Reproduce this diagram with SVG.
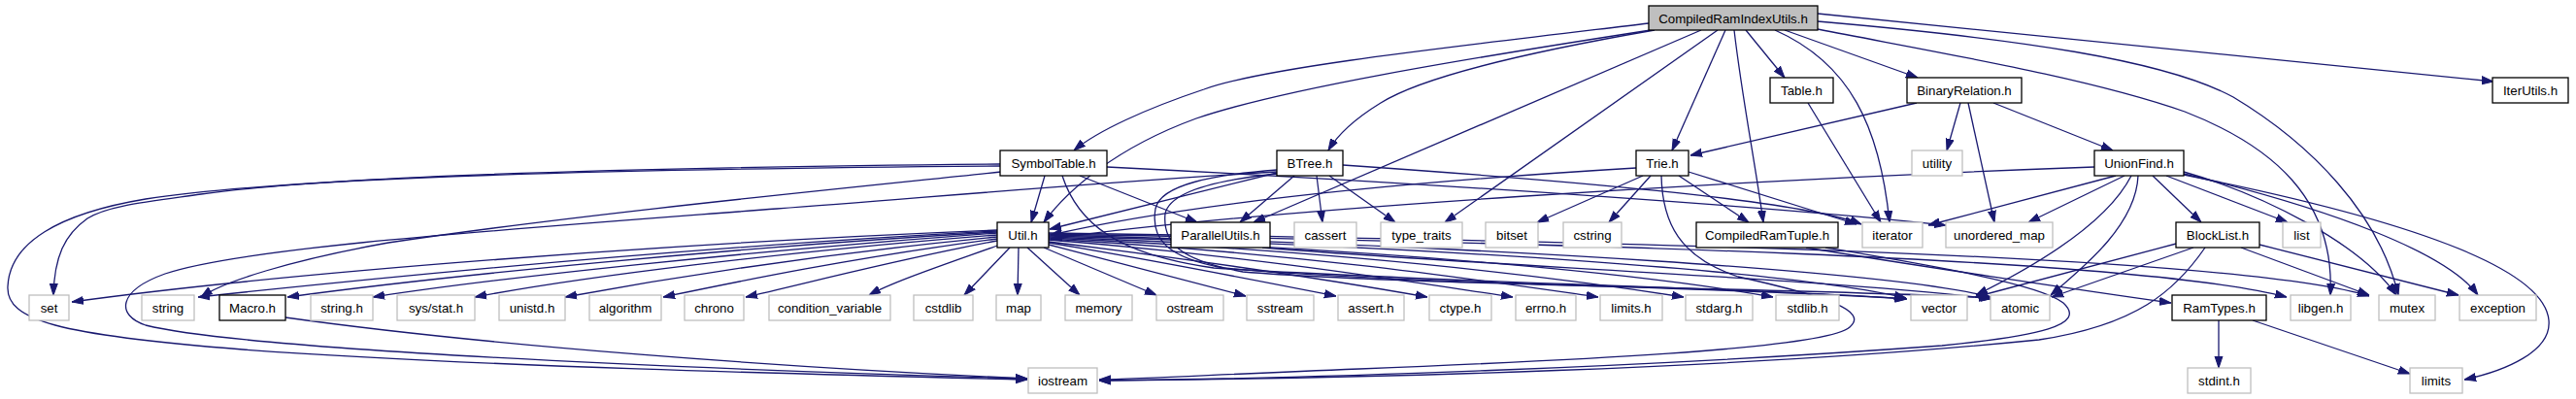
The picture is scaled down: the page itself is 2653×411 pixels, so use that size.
<svg xmlns="http://www.w3.org/2000/svg" width="2653" height="411" viewBox="0 0 2653 411">
<style>
.n rect{fill:#fff;stroke:#000;stroke-width:1.3}
.x rect{fill:#fff;stroke:#bfbfbf;stroke-width:1.3}
.r rect{fill:#bfbfbf;stroke:#000;stroke-width:1.3}
text{font-family:"Liberation Sans",Arial,sans-serif;font-size:13.3px;text-anchor:middle;fill:#000}
#edges path{fill:none;stroke:#191970;stroke-width:1.3;marker-end:url(#a)}
</style>
<defs>
<marker id="a" markerUnits="userSpaceOnUse" markerWidth="12" markerHeight="10" viewBox="0 0 12 10" refX="12" refY="5" orient="auto"><path d="M0,1 L12,5 L0,9 z" fill="#191970" stroke="#191970" stroke-width="1"/></marker>
</defs>
<rect width="2653" height="411" fill="#fff"/>
<g id="edges">
<path d="M1698,24 C1480,50 1300,70 1240,92 C1180,112 1130,135 1106,155"/>
<path d="M1700,31 C1500,62 1320,92 1232,122 C1150,152 1100,195 1075,229"/>
<path d="M1704,31 C1560,56 1460,82 1422,106 C1396,122 1378,138 1368,155"/>
<path d="M1752,31 L1291,229"/>
<path d="M1769,31 L1488,229"/>
<path d="M1777,31 L1722,155"/>
<path d="M1786,31 C1794,100 1808,170 1816,229"/>
<path d="M1798,31 L1838,80"/>
<path d="M1828,31 C1905,65 1936,130 1946,229"/>
<path d="M1838,31 L1975,80"/>
<path d="M1872,30 C2000,55 2150,80 2250,115 C2340,150 2405,205 2400,304"/>
<path d="M1872,22 C2080,40 2230,62 2300,100 C2380,148 2450,220 2470,304"/>
<path d="M1872,14 L2568,84"/>
<path d="M1862,106 L1937,229"/>
<path d="M1974,106 L1741,160"/>
<path d="M2019,106 L2005,155"/>
<path d="M2027,106 L2054,229"/>
<path d="M2053,106 L2176,155"/>
<path d="M1030,169 C700,172 350,180 207,200 C150,208 110,212 90,225 C66,242 56,265 55,304"/>
<path d="M1030,171 C650,174 300,182 150,205 C60,220 10,250 8,295 C6,330 60,345 250,360 C500,378 850,386 1058,391"/>
<path d="M1031,177 C880,193 600,220 400,250 C300,268 230,290 207,306"/>
<path d="M1076,181 L1062,229"/>
<path d="M1112,181 L1233,229"/>
<path d="M1140,172 C1500,190 1850,215 2004,232"/>
<path d="M1094,181 C1110,230 1150,262 1250,276 C1500,292 1800,296 1964,308"/>
<path d="M1315,177 C1100,190 950,204 800,215 C500,238 250,255 170,282 C120,300 120,325 150,335 C250,360 700,380 1058,390"/>
<path d="M1315,178 L1081,236"/>
<path d="M1333,181 L1277,229"/>
<path d="M1356,181 L1362,229"/>
<path d="M1369,181 L1437,229"/>
<path d="M1383,170 C1600,185 1850,205 1917,231"/>
<path d="M1315,175 C1250,180 1195,190 1190,215 C1185,245 1200,265 1260,276 C1420,292 1800,296 1963,308"/>
<path d="M1316,179 C1255,185 1205,197 1200,220 C1197,250 1215,268 1280,280 C1450,294 1900,298 2052,307"/>
<path d="M1685,173 C1400,190 1200,215 1082,242"/>
<path d="M1692,181 L1583,229"/>
<path d="M1700,181 L1657,229"/>
<path d="M1729,181 L1801,229"/>
<path d="M1739,177 L1912,231"/>
<path d="M1711,181 C1712,230 1730,265 1790,285 C1880,305 1925,320 1905,337 C1880,360 1600,372 1400,380 C1250,386 1180,390 1132,391"/>
<path d="M2157,172 C1800,185 1300,215 1082,246"/>
<path d="M2179,181 L1986,232"/>
<path d="M2188,181 L2089,229"/>
<path d="M2195,181 C2170,230 2100,272 2035,304"/>
<path d="M2202,181 C2200,230 2150,272 2112,304"/>
<path d="M2217,181 L2267,229"/>
<path d="M2231,181 L2356,229"/>
<path d="M2249,177 C2330,200 2430,250 2468,304"/>
<path d="M2249,179 C2400,215 2520,260 2552,304"/>
<path d="M2249,180 C2450,220 2620,270 2625,330 C2628,362 2580,382 2538,391"/>
<path d="M2245,250 L2034,306"/>
<path d="M2259,255 L2113,306"/>
<path d="M2271,255 C2240,300 2200,335 2100,350 C1800,380 1400,390 1132,392"/>
<path d="M2308,255 L2440,304"/>
<path d="M2327,252 L2532,304"/>
<path d="M1860,255 C1950,270 2150,300 2236,312"/>
<path d="M1880,255 C1980,272 2100,292 2125,312 C2150,335 2100,346 2000,356 C1700,378 1350,390 1132,392"/>
<path d="M2285,330 L2285,379"/>
<path d="M2320,330 L2482,385"/>
<path d="M1300,255 C1500,272 1900,288 2050,308"/>
<path d="M294,327 C500,356 800,378 1058,390"/>
<path d="M1027,237 C700,250 300,280 74,311"/>
<path d="M1027,238 C700,255 400,285 204,306"/>
<path d="M1027,239 C750,255 450,285 296,306"/>
<path d="M1027,240 C780,258 520,285 384,306"/>
<path d="M1027,242 C800,260 600,285 489,306"/>
<path d="M1027,244 C840,262 680,288 582,306"/>
<path d="M1027,246 C880,265 760,290 683,306"/>
<path d="M1027,248 C920,268 830,292 768,306"/>
<path d="M1030,252 C980,270 920,290 895,304"/>
<path d="M1040,255 L993,304"/>
<path d="M1049,255 L1048,304"/>
<path d="M1058,255 L1112,304"/>
<path d="M1075,255 L1191,304"/>
<path d="M1080,252 L1283,305"/>
<path d="M1080,250 C1200,270 1300,290 1376,305"/>
<path d="M1080,249 C1250,270 1380,290 1470,306"/>
<path d="M1080,247 C1300,265 1450,290 1558,306"/>
<path d="M1080,246 C1350,262 1520,288 1646,306"/>
<path d="M1080,245 C1400,260 1600,285 1734,306"/>
<path d="M1080,244 C1450,258 1700,283 1826,306"/>
<path d="M1080,243 C1500,255 1850,280 1963,307"/>
<path d="M1080,242 C1550,254 1950,280 2050,306"/>
<path d="M1080,241 C1600,250 2200,265 2355,306"/>
<path d="M1080,240 C1650,248 2300,262 2440,305"/>
</g>
<g id="CompiledRamIndexUtils_h" class="r"><rect x="1698" y="6" width="174" height="25"/><text x="1785" y="23.5">CompiledRamIndexUtils.h</text></g>
<g id="Table_h" class="n"><rect x="1823" y="80" width="65" height="26"/><text x="1855.5" y="98">Table.h</text></g>
<g id="BinaryRelation_h" class="n"><rect x="1964" y="80" width="118" height="26"/><text x="2023" y="98">BinaryRelation.h</text></g>
<g id="IterUtils_h" class="n"><rect x="2567" y="80" width="78" height="26"/><text x="2606" y="98">IterUtils.h</text></g>
<g id="SymbolTable_h" class="n"><rect x="1030" y="155" width="110" height="26"/><text x="1085" y="173">SymbolTable.h</text></g>
<g id="BTree_h" class="n"><rect x="1315" y="155" width="68" height="26"/><text x="1349" y="173">BTree.h</text></g>
<g id="Trie_h" class="n"><rect x="1685" y="155" width="54" height="26"/><text x="1712" y="173">Trie.h</text></g>
<g id="utility" class="x"><rect x="1969" y="155" width="52" height="26"/><text x="1995" y="173">utility</text></g>
<g id="UnionFind_h" class="n"><rect x="2157" y="155" width="92" height="26"/><text x="2203" y="173">UnionFind.h</text></g>
<g id="Util_h" class="n"><rect x="1027" y="229" width="53" height="26"/><text x="1053.5" y="247">Util.h</text></g>
<g id="ParallelUtils_h" class="n"><rect x="1206" y="229" width="102" height="26"/><text x="1257" y="247">ParallelUtils.h</text></g>
<g id="cassert" class="x"><rect x="1333" y="229" width="64" height="26"/><text x="1365" y="247">cassert</text></g>
<g id="type_traits" class="x"><rect x="1422" y="229" width="84" height="26"/><text x="1464" y="247">type_traits</text></g>
<g id="bitset" class="x"><rect x="1530" y="229" width="54" height="26"/><text x="1557" y="247">bitset</text></g>
<g id="cstring" class="x"><rect x="1610" y="229" width="60" height="26"/><text x="1640" y="247">cstring</text></g>
<g id="CompiledRamTuple_h" class="n"><rect x="1747" y="229" width="146" height="26"/><text x="1820" y="247">CompiledRamTuple.h</text></g>
<g id="iterator" class="x"><rect x="1918" y="229" width="62" height="26"/><text x="1949" y="247">iterator</text></g>
<g id="unordered_map" class="x"><rect x="2004" y="229" width="110" height="26"/><text x="2059" y="247">unordered_map</text></g>
<g id="BlockList_h" class="n"><rect x="2241" y="229" width="86" height="26"/><text x="2284" y="247">BlockList.h</text></g>
<g id="list" class="x"><rect x="2351" y="229" width="39" height="26"/><text x="2370.5" y="247">list</text></g>
<g id="set" class="x"><rect x="30" y="304" width="41" height="26"/><text x="50.5" y="322">set</text></g>
<g id="string" class="x"><rect x="146" y="304" width="54" height="26"/><text x="173" y="322">string</text></g>
<g id="Macro_h" class="n"><rect x="226" y="304" width="68" height="26"/><text x="260" y="322">Macro.h</text></g>
<g id="string_h" class="x"><rect x="320" y="304" width="64" height="26"/><text x="352" y="322">string.h</text></g>
<g id="sys_stat_h" class="x"><rect x="409" y="304" width="80" height="26"/><text x="449" y="322">sys/stat.h</text></g>
<g id="unistd_h" class="x"><rect x="514" y="304" width="68" height="26"/><text x="548" y="322">unistd.h</text></g>
<g id="algorithm" class="x"><rect x="607" y="304" width="74" height="26"/><text x="644" y="322">algorithm</text></g>
<g id="chrono" class="x"><rect x="705" y="304" width="61" height="26"/><text x="735.5" y="322">chrono</text></g>
<g id="condition_variable" class="x"><rect x="792" y="304" width="125" height="26"/><text x="854.5" y="322">condition_variable</text></g>
<g id="cstdlib" class="x"><rect x="941" y="304" width="61" height="26"/><text x="971.5" y="322">cstdlib</text></g>
<g id="map" class="x"><rect x="1026" y="304" width="46" height="26"/><text x="1049" y="322">map</text></g>
<g id="memory" class="x"><rect x="1097" y="304" width="69" height="26"/><text x="1131.5" y="322">memory</text></g>
<g id="ostream" class="x"><rect x="1191" y="304" width="69" height="26"/><text x="1225.5" y="322">ostream</text></g>
<g id="sstream" class="x"><rect x="1284" y="304" width="69" height="26"/><text x="1318.5" y="322">sstream</text></g>
<g id="assert_h" class="x"><rect x="1378" y="304" width="68" height="26"/><text x="1412" y="322">assert.h</text></g>
<g id="ctype_h" class="x"><rect x="1472" y="304" width="64" height="26"/><text x="1504" y="322">ctype.h</text></g>
<g id="errno_h" class="x"><rect x="1561" y="304" width="62" height="26"/><text x="1592" y="322">errno.h</text></g>
<g id="limits_h" class="x"><rect x="1648" y="304" width="64" height="26"/><text x="1680" y="322">limits.h</text></g>
<g id="stdarg_h" class="x"><rect x="1736" y="304" width="69" height="26"/><text x="1770.5" y="322">stdarg.h</text></g>
<g id="stdlib_h" class="x"><rect x="1829" y="304" width="65" height="26"/><text x="1861.5" y="322">stdlib.h</text></g>
<g id="vector" class="x"><rect x="1968" y="304" width="58" height="26"/><text x="1997" y="322">vector</text></g>
<g id="atomic" class="x"><rect x="2050" y="304" width="61" height="26"/><text x="2080.5" y="322">atomic</text></g>
<g id="RamTypes_h" class="n"><rect x="2237" y="304" width="97" height="26"/><text x="2285.5" y="322">RamTypes.h</text></g>
<g id="libgen_h" class="x"><rect x="2359" y="304" width="62" height="26"/><text x="2390" y="322">libgen.h</text></g>
<g id="mutex" class="x"><rect x="2450" y="304" width="58" height="26"/><text x="2479" y="322">mutex</text></g>
<g id="exception" class="x"><rect x="2533" y="304" width="79" height="26"/><text x="2572.5" y="322">exception</text></g>
<g id="iostream" class="x"><rect x="1059" y="379" width="71" height="26"/><text x="1094.5" y="397">iostream</text></g>
<g id="stdint_h" class="x"><rect x="2253" y="379" width="65" height="26"/><text x="2285.5" y="397">stdint.h</text></g>
<g id="limits" class="x"><rect x="2482" y="379" width="54" height="26"/><text x="2509" y="397">limits</text></g>
</svg>
